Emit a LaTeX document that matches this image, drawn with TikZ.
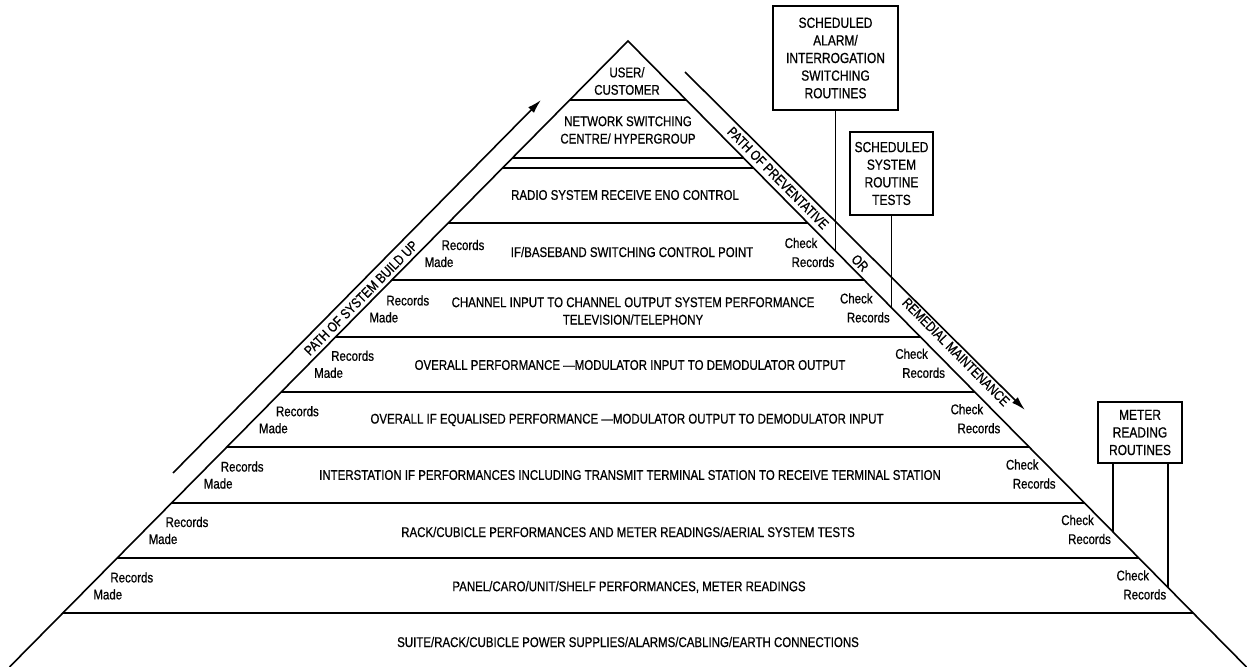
\documentclass[tikz,border=0pt]{standalone}
\usepackage{fontspec}
\setmainfont{Liberation Sans}[FakeStretch=0.82,FakeBold=0.7]
\usetikzlibrary{arrows.meta,positioning}

\tikzset{
    layer/.style={font=\fontsize{7}{8.7}\selectfont, align=center, inner sep=1pt},
    note/.style={font=\fontsize{7}{8.7}\selectfont, inner sep=0pt},
    routinebox/.style={draw, line width=0.9pt, font=\fontsize{7.3}{8.8}\selectfont, align=center, inner sep=2pt},
    pathtext/.style={font=\fontsize{7}{8}\selectfont, inner sep=0pt},
    patharrow/.style={-{Latex[length=7pt,width=4pt]}},
}

\begin{document}
\begin{tikzpicture}[x=0.5pt,y=-0.5pt,line width=0.8pt]
    \useasboundingbox (0,0) rectangle (1247,667);

    \pgfmathsetmacro {\ax}{628}   %Apex x
    \pgfmathsetmacro {\ay}{41}    %Apex y
    \pgfmathsetmacro {\by}{667}   %Base y
    \pgfmathsetmacro {\sl}{0.988} %Run of the sides per unit drop

    % Pyramid outline
    \coordinate (apex)  at (\ax,\ay);
    \coordinate (baseL) at ({\ax-\sl*(\by-\ay)},\by);
    \coordinate (baseR) at ({\ax+\sl*(\by-\ay)},\by);
    \draw (baseL) -- (apex) -- (baseR);

    %Loop for the layer dividers, side to side
    \foreach \y in {100,158,168,223,280,337,392,447,503,558,613} {
        \pgfmathsetmacro {\dx}{\sl*(\y-\ay)}
        \draw (\ax-\dx,\y) -- (\ax+\dx,\y);
    }

    % Layer texts, top to bottom
    \node[layer] (user)    at (627,81)  {USER/\\CUSTOMER};
    \node[layer] (netsw)   at (628,130) {NETWORK SWITCHING\\CENTRE/ HYPERGROUP};
    \node[layer] (radio)   at (625,195) {RADIO SYSTEM RECEIVE ENO CONTROL};
    \node[layer] (ifbb)    at (632,252) {IF/BASEBAND SWITCHING CONTROL POINT};
    \node[layer] (chan)    at (633,311) {CHANNEL INPUT TO CHANNEL OUTPUT SYSTEM PERFORMANCE\\TELEVISION/TELEPHONY};
    \node[layer] (overall) at (630,365) {OVERALL PERFORMANCE ---MODULATOR INPUT TO DEMODULATOR OUTPUT};
    \node[layer] (ifeq)    at (627,420) {OVERALL IF EQUALISED PERFORMANCE ---MODULATOR OUTPUT TO DEMODULATOR INPUT};
    \node[layer] (inter)   at (630,475) {INTERSTATION IF PERFORMANCES INCLUDING TRANSMIT TERMINAL STATION TO RECEIVE TERMINAL STATION};
    \node[layer] (rack)    at (628,532) {RACK/CUBICLE PERFORMANCES AND METER READINGS/AERIAL SYSTEM TESTS};
    \node[layer] (panel)   at (629,587) {PANEL/CARO/UNIT/SHELF PERFORMANCES, METER READINGS};
    \node[layer] (suite)   at (628,642) {SUITE/RACK/CUBICLE POWER SUPPLIES/ALARMS/CABLING/EARTH CONNECTIONS};

    %Loop for the record notes on both sides of each layer
    \foreach \i in {0,...,6} {
        \pgfmathsetmacro {\rx}{463-55.2*\i}  %Records made x
        \pgfmathsetmacro {\ry}{245+55.4*\i}  %Records made y
        \pgfmathsetmacro {\cx}{801+55.3*\i}  %Check records x
        \node[note] (rec\i)    at (\rx,\ry)        {Records};
        \node[note] (made\i)   at (\rx-24,\ry+17)  {Made};
        \node[note] (chk\i)    at (\cx,\ry-2)      {Check};
        \node[note] (chkrec\i) at (\cx+12,\ry+17)  {Records};
    }

    %
    % Build up path, up the left side
    %
    \coordinate (upS) at (173,473);
    \coordinate (upE) at (541,100);
    \draw[patharrow] (upS) -- (upE);
    \node[pathtext, rotate=45.3] (uplbl) at (361,298) {PATH OF SYSTEM BUILD UP};

    %
    % Maintenance path, down the right side
    %
    \coordinate (dnS) at (685,72);
    \coordinate (dnE) at (1025,410);
    \draw[patharrow] (dnS) -- (dnE);
    \node[pathtext, rotate=-45.3] (dnlbl1) at (778,178) {PATH OF PREVENTATIVE};
    \node[pathtext, rotate=-45.3] (dnlbl2) at (860,263) {OR};
    \node[pathtext, rotate=-45.3] (dnlbl3) at (956,352) {REMEDIAL MAINTENANCE};

    %
    % Routine boxes tied to the right side
    %
    \node[routinebox, minimum width=62.5pt, minimum height=52pt] (alarmbox) at (835.5,58)
        {SCHEDULED\\ALARM/\\INTERROGATION\\SWITCHING\\ROUTINES};
    \node[routinebox, minimum width=41.5pt, minimum height=41.5pt] (testbox) at (891.5,173.5)
        {SCHEDULED\\SYSTEM\\ROUTINE\\TESTS};
    \node[routinebox, minimum width=42pt, minimum height=30.5pt] (meterbox) at (1140,432.5)
        {METER\\READING\\ROUTINES};

    \coordinate (alarmend) at (835.5,{\ay+(835.5-\ax)/\sl});
    \coordinate (testend)  at (891.5,{\ay+(891.5-\ax)/\sl});
    \coordinate (meterA)   at (1113,{\ay+(1113-\ax)/\sl});
    \coordinate (meterB)   at (1168,{\ay+(1168-\ax)/\sl});
    \draw (alarmbox) -- (alarmend);
    \draw (testbox) -- (testend);
    \draw (meterA |- meterbox.south) -- (meterA);
    \draw (meterB |- meterbox.south) -- (meterB);
\end{tikzpicture}
\end{document}
